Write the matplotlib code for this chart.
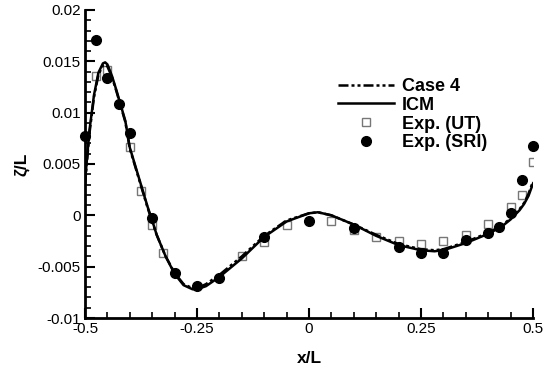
import numpy as np
import matplotlib
matplotlib.use("Agg")
import matplotlib.pyplot as plt
from matplotlib.ticker import MultipleLocator, FixedLocator, FixedFormatter
from matplotlib.lines import Line2D

plt.rcParams['font.family'] = ['Liberation Sans', 'DejaVu Sans']
plt.rcParams['axes.unicode_minus'] = False

# ICM curve
icm_x = [-0.5, -0.49, -0.48, -0.47, -0.46, -0.455, -0.45, -0.44, -0.43, -0.42, -0.41,
         -0.40, -0.38, -0.36, -0.35, -0.34, -0.32, -0.30, -0.28, -0.26, -0.25, -0.23,
         -0.20, -0.15, -0.10, -0.05, 0.0, 0.02, 0.05, 0.10, 0.15, 0.20, 0.25, 0.28,
         0.30, 0.35, 0.40, 0.43, 0.45, 0.47, 0.48, 0.49, 0.50]
icm_y = [0.0033, 0.0083, 0.0117, 0.0139, 0.0148, 0.0149, 0.0147, 0.0136, 0.0122, 0.0107, 0.0092,
         0.0066, 0.0037, 0.0008, -0.0005, -0.0019, -0.0040, -0.0057, -0.0068, -0.0072, -0.0072, -0.0069,
         -0.0060, -0.0042, -0.0021, -0.0006, 0.0002, 0.0003, 0.0000, -0.0009, -0.0020, -0.0029, -0.0034, -0.0035,
         -0.0034, -0.0027, -0.0018, -0.0011, -0.0004, 0.0005, 0.0011, 0.0019, 0.0031]

# Case 4 curve
case4_x = [-0.5, -0.49, -0.48, -0.47, -0.46, -0.455, -0.45, -0.44, -0.43, -0.42, -0.41,
           -0.40, -0.38, -0.36, -0.35, -0.34, -0.32, -0.30, -0.28, -0.26, -0.25, -0.23,
           -0.20, -0.15, -0.10, -0.05, 0.0, 0.02, 0.05, 0.10, 0.15, 0.20, 0.25, 0.28,
           0.30, 0.35, 0.40, 0.43, 0.45, 0.47, 0.48, 0.49, 0.50]
case4_y = [0.0030, 0.0080, 0.0115, 0.0137, 0.0146, 0.0147, 0.0145, 0.0135, 0.0121, 0.0106, 0.0091,
           0.0065, 0.0036, 0.0007, -0.0006, -0.0019, -0.0040, -0.0056, -0.0067, -0.0071, -0.0071, -0.0067,
           -0.0058, -0.0040, -0.0020, -0.0005, 0.0002, 0.0003, 0.0000, -0.0009, -0.0019, -0.0028, -0.0033, -0.0034,
           -0.0033, -0.0026, -0.0017, -0.0010, -0.0003, 0.0006, 0.0012, 0.0021, 0.0033]

# Exp. (UT)
ut_x = [-0.475, -0.45, -0.40, -0.375, -0.35, -0.325, -0.15, -0.10, -0.05, 0.05, 0.10,
        0.15, 0.20, 0.25, 0.30, 0.35, 0.40, 0.45, 0.475, 0.50]
ut_y = [0.0136, 0.0142, 0.0067, 0.0024, -0.0009, -0.0037, -0.0040, -0.0026, -0.0009, -0.0006, -0.0014,
        -0.0021, -0.0025, -0.0028, -0.0025, -0.0019, -0.0008, 0.0008, 0.0020, 0.0052]

# Exp. (SRI)
sri_x = [-0.5, -0.475, -0.45, -0.425, -0.40, -0.35, -0.30, -0.25, -0.20, -0.10, 0.0,
         0.10, 0.20, 0.25, 0.30, 0.35, 0.40, 0.425, 0.45, 0.475, 0.50]
sri_y = [0.0077, 0.0171, 0.0134, 0.0108, 0.0080, -0.0003, -0.0056, -0.0069, -0.0061, -0.0021, -0.0006,
         -0.0012, -0.0031, -0.0037, -0.0037, -0.0024, -0.0017, -0.0011, 0.0002, 0.0034, 0.0068]

xticks = [-0.5, -0.25, 0, 0.25, 0.5]
xtick_labels = ['-0.5', '-0.25', '0', '0.25', '0.5']
yticks = [-0.01, -0.005, 0, 0.005, 0.01, 0.015, 0.02]
ytick_labels = ['-0.01', '-0.005', '0', '0.005', '0.01', '0.015', '0.02']

fig = plt.figure(figsize=(5.51, 3.71), dpi=100)
ax = fig.add_axes([85 / 551, 1 - 318 / 371, 448 / 551, 308 / 371])

ax.plot(ut_x, ut_y, linestyle='none', marker='s', markersize=5.5, markerfacecolor='white',
        markeredgecolor='#777777', markeredgewidth=1.0, zorder=2)
ax.plot(icm_x, icm_y, color='black', linewidth=1.8, zorder=3)
ax.plot(case4_x, case4_y, color='black', linewidth=1.8, dashes=[4, 1.2, 1.2, 1.2, 1.2, 1.2], zorder=3)
ax.plot(sri_x, sri_y, linestyle='none', marker='o', markersize=7, color='black', zorder=4,
        clip_on=False)

ax.set_xlim(-0.5, 0.5)
ax.set_ylim(-0.01, 0.02)
ax.xaxis.set_major_locator(FixedLocator(xticks))
ax.xaxis.set_major_formatter(FixedFormatter(xtick_labels))
ax.yaxis.set_major_locator(FixedLocator(yticks))
ax.yaxis.set_major_formatter(FixedFormatter(ytick_labels))
ax.xaxis.set_minor_locator(MultipleLocator(0.05))
ax.yaxis.set_minor_locator(MultipleLocator(0.001))

for side in ['top', 'right']:
    ax.spines[side].set_visible(False)
for side in ['left', 'bottom']:
    ax.spines[side].set_linewidth(2)

ax.tick_params(which='major', direction='in', length=7, width=1.5, labelsize=11, pad=3)
ax.tick_params(which='minor', direction='in', length=4, width=1.2)

ax.set_xlabel('x/L', fontsize=12.5, fontweight='bold', labelpad=11)
ax.set_ylabel('ζ/L', fontsize=12.5, fontweight='bold', labelpad=6)

handles = [
    Line2D([], [], color='black', linewidth=1.8, dashes=[4, 1.2, 1.2, 1.2, 1.2, 1.2]),
    Line2D([], [], color='black', linewidth=1.8),
    Line2D([], [], linestyle='none', marker='s', markersize=5.5, markerfacecolor='white',
           markeredgecolor='#777777', markeredgewidth=1.0),
    Line2D([], [], linestyle='none', marker='o', markersize=7, color='black'),
]
labels = ['Case 4', 'ICM', 'Exp. (UT)', 'Exp. (SRI)']
leg = ax.legend(handles, labels, loc='upper left', bbox_to_anchor=(338 / 551, 1 - 78 / 371),
                bbox_transform=fig.transFigure, frameon=False, borderpad=0, borderaxespad=0,
                handlelength=3.1, handletextpad=0.45, labelspacing=0.1,
                prop={'size': 13, 'weight': 'bold'})

fig.savefig('out.png', dpi=100)
